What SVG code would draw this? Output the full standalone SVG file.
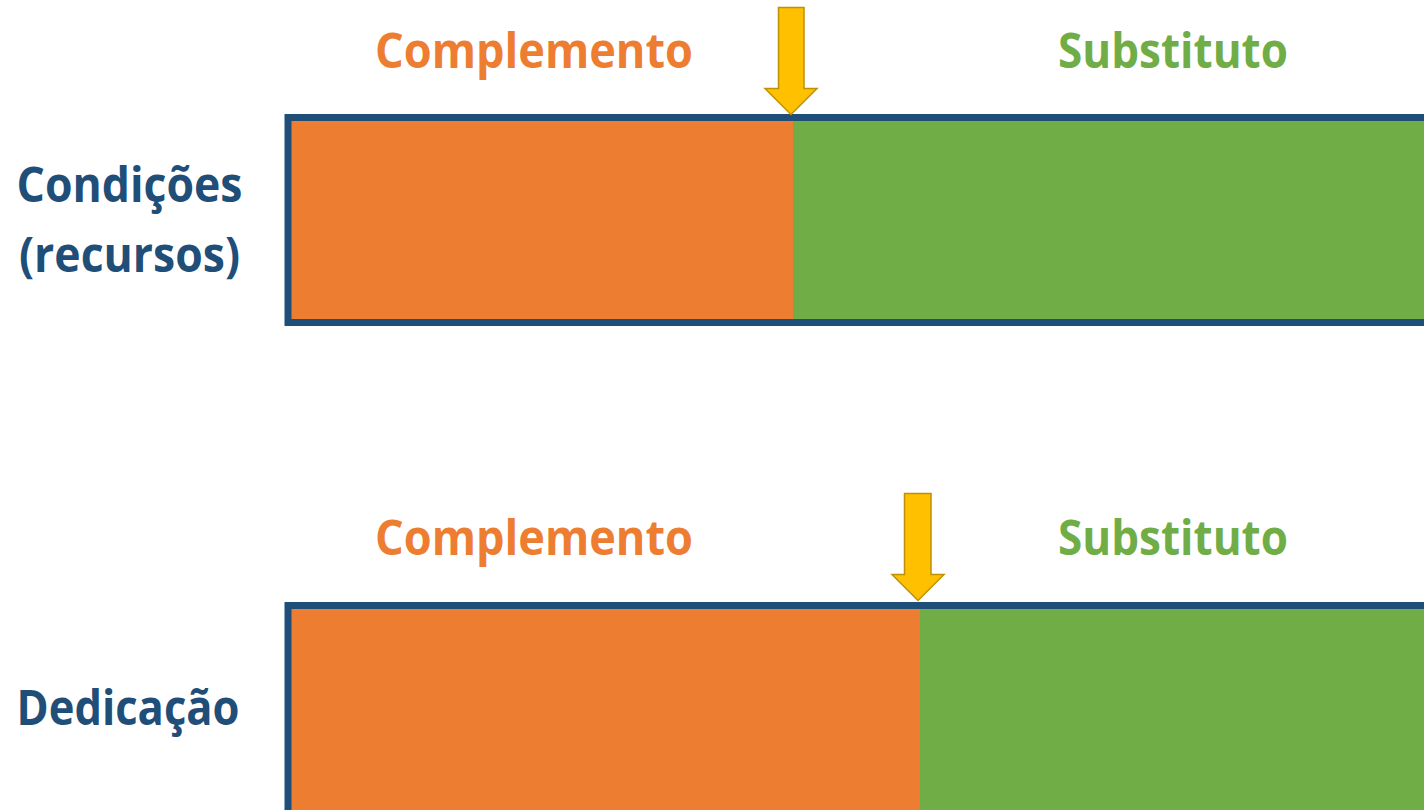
<svg xmlns="http://www.w3.org/2000/svg" width="1424" height="810" viewBox="0 0 1424 810">
<style>
  .lbl { font-family: "Open Sans", "Liberation Sans", sans-serif; font-weight: bold; font-size: 49px; }
  .side { fill: #1F4E79; }
  .comp { fill: #ED7D31; }
  .subs { fill: #70AD47; }
  .frame { fill: none; stroke: #1F4E79; stroke-width: 7; }
  .arrow { fill: #FFC000; stroke: #BF9000; stroke-width: 1.5; stroke-linejoin: miter; }
</style>
<rect width="1424" height="810" fill="#FFFFFF"/>
<g id="row1">
  <rect x="288" y="117.5" width="505" height="205" fill="#ED7D31"/>
  <rect x="793" y="117.5" width="640" height="205" fill="#70AD47"/>
  <rect class="frame" x="288" y="117.5" width="1145" height="205"/>
  <text class="lbl side" x="16.5" y="202" textLength="226" lengthAdjust="spacingAndGlyphs">Condições</text>
  <text class="lbl side" x="19" y="272" textLength="221" lengthAdjust="spacingAndGlyphs">(recursos)</text>
  <text class="lbl comp" x="375" y="68" textLength="318" lengthAdjust="spacingAndGlyphs">Complemento</text>
  <text class="lbl subs" x="1058" y="68" textLength="230" lengthAdjust="spacingAndGlyphs">Substituto</text>
</g>
<g id="row2">
  <rect x="288" y="605.5" width="632" height="210" fill="#ED7D31"/>
  <rect x="920" y="605.5" width="513" height="210" fill="#70AD47"/>
  <rect class="frame" x="288" y="605.5" width="1145" height="210"/>
  <text class="lbl side" x="16.5" y="725" textLength="223" lengthAdjust="spacingAndGlyphs">Dedicação</text>
  <text class="lbl comp" x="375" y="555" textLength="318" lengthAdjust="spacingAndGlyphs">Complemento</text>
  <text class="lbl subs" x="1058" y="555" textLength="230" lengthAdjust="spacingAndGlyphs">Substituto</text>
</g>
<g id="connectors">
  <polygon id="arrow1" class="arrow" points="778.5,7.5 804,7.5 804,88.5 817,88.5 791,114.5 765,88.5 778.5,88.5"/>
  <polygon id="arrow2" class="arrow" points="904.5,493.5 931,493.5 931,574.5 944,574.5 918,600.5 892,574.5 904.5,574.5"/>
</g>
</svg>
